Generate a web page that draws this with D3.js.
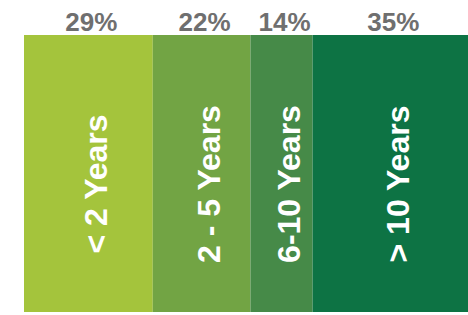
<!DOCTYPE html>
<html>
<head>
<meta charset="utf-8">
<script src="https://cdn.jsdelivr.net/npm/d3@7"></script>
<style>
  html, body { margin: 0; padding: 0; background: #ffffff; }
  svg { display: block; }
</style>
</head>
<body>
<svg id="chart" width="468" height="315"></svg>
<script>
const categories = ["< 2 Years", "2 - 5 Years", "6-10 Years", "> 10 Years"];
const values = [29, 22, 14, 35];
const valueLabels = ["29%", "22%", "14%", "35%"];
const colors = ["#a4c43c", "#72a444", "#468a48", "#0d7344"];

(function () {
  const svg = d3.select("#chart");
  const mLeft = 24, mRight = 468, mTop = 35, mBottom = 312;

  let acc = 0;
  const data = categories.map((c, i) => {
    const d = { cat: c, value: values[i], label: valueLabels[i], color: colors[i], x0: acc };
    acc += values[i];
    d.x1 = acc;
    return d;
  });

  const x = d3.scaleLinear().domain([0, d3.sum(values)]).range([mLeft, mRight]);
  const y = d3.scaleLinear().domain([0, 1]).range([mBottom, mTop]);

  svg.selectAll("rect.seg")
    .data(data)
    .join("rect")
    .attr("class", "seg")
    .attr("x", d => x(d.x0))
    .attr("y", y(1))
    .attr("width", d => x(d.x1) - x(d.x0))
    .attr("height", y(0) - y(1))
    .attr("fill", d => d.color);

  svg.selectAll("text.pct")
    .data(data)
    .join("text")
    .attr("class", "pct")
    .attr("x", d => (x(d.x0) + x(d.x1)) / 2 + 3)
    .attr("y", 31)
    .attr("text-anchor", "middle")
    .attr("font-family", "Liberation Sans, Arial, sans-serif")
    .attr("font-weight", "bold")
    .attr("font-size", 26)
    .attr("fill", "#6f6f6f")
    .text(d => d.label);

  svg.selectAll("text.cat")
    .data(data)
    .join("text")
    .attr("class", "cat")
    .attr("transform", d => `translate(${(x(d.x0) + x(d.x1)) / 2 + 18.5},184) rotate(-90)`)
    .attr("text-anchor", "middle")
    .attr("font-family", "Liberation Sans, Arial, sans-serif")
    .attr("font-weight", "bold")
    .attr("font-size", 32)
    .attr("fill", "#ffffff")
    .text(d => d.cat);
})();
</script>
</body>
</html>
